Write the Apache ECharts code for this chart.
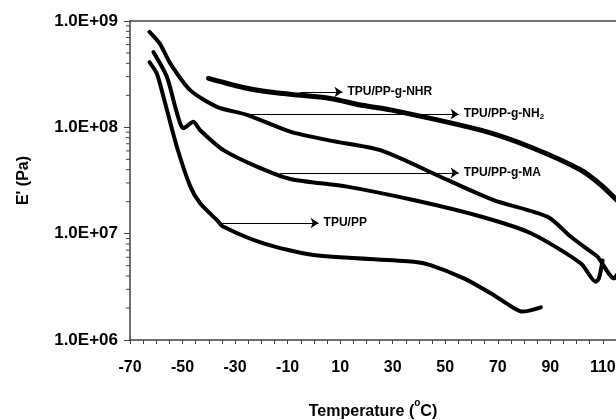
<!DOCTYPE html>
<html>
<head>
<meta charset="utf-8">
<script src="https://cdn.jsdelivr.net/npm/echarts@6/dist/echarts.min.js"></script>
<style>
html,body{margin:0;padding:0;background:#fff;}
#chart{width:616px;height:420px;}
</style>
</head>
<body>
<div id="chart"></div>
<script>
// ---- data ----
const tempNHR = [-40.1, -25.5, -12.8, 6.3, 17.7, 29.2, 63.5, 82.6, 101.6, 109.3, 115.3];
const modNHR  = [2.89e8, 2.33e8, 2.09e8, 1.87e8, 1.62e8, 1.46e8, 9.4e7, 6.5e7, 3.97e7, 2.87e7, 2.07e7];

const tempNH2 = [-62.6, -58.6, -54.7, -47.1, -36.9, -25.5, -9, 6.3, 25.3, 50.8, 68.4, 89, 97.8, 105.4, 108, 114.3, 115.3];
const modNH2  = [7.9e8, 6.1e8, 4.0e8, 2.24e8, 1.56e8, 1.31e8, 9.1e7, 7.5e7, 6.1e7, 3.2e7, 2.07e7, 1.44e7, 9.36e6, 6.77e6, 6.07e6, 3.8e6, 4.1e6];

const tempMA = [-61.1, -56, -52.8, -50.9, -49.7, -45.9, -43.3, -34.4, -21.7, -9, 12.6, 37.9, 63.5, 82.6, 101.6, 107.3, 108.5, 109.9];
const modMA  = [5.1e8, 3.0e8, 1.56e8, 1.09e8, 9.8e7, 1.13e8, 9.4e7, 6.1e7, 4.27e7, 3.27e7, 2.77e7, 2.07e7, 1.45e7, 1.01e7, 5.26e6, 3.53e6, 3.8e6, 5.6e6];

const tempPP = [-62.6, -59.8, -57.3, -52.2, -47.1, -43.3, -36.9, -34.4, -19.2, -0.1, 38, 44.4, 57.1, 67.3, 76.2, 79.4, 86.4];
const modPP  = [4.1e8, 3.2e8, 1.95e8, 6.6e7, 2.8e7, 1.93e7, 1.34e7, 1.16e7, 8.1e6, 6.3e6, 5.45e6, 5.07e6, 3.8e6, 2.75e6, 1.99e6, 1.85e6, 2.03e6];

// annotation arrows (data space)
const annText = ['TPU/PP-g-NHR', 'TPU/PP-g-NH2', 'TPU/PP-g-MA', 'TPU/PP'];
const annFrom = [-5.2, -26.8, -12.8, -35];
const annTo   = [10.9, 55.1, 55.1, 1.8];
const annE    = [2.15e8, 1.33e8, 3.73e7, 1.26e7];

// axis ticks
const xMin = -70, xMax = 115;
const yMin = 1e6, yMax = 1e9;
const yMinorTicks = [2e6,3e6,4e6,5e6,6e6,7e6,8e6,9e6, 2e7,3e7,4e7,5e7,6e7,7e7,8e7,9e7, 2e8,3e8,4e8,5e8,6e8,7e8,8e8,9e8];

const zip = (a, b) => a.map((v, i) => [v, b[i]]);
const FONT = '"Liberation Sans", Arial, sans-serif';
const AX = '#404040';

const chart = echarts.init(document.getElementById('chart'), null, {renderer: 'canvas'});

function lineSeries(name, t, e, w) {
  return {
    name, type: 'line', data: zip(t, e), showSymbol: false,
    smooth: 0.25,
    lineStyle: {color: '#000', width: w, cap: 'round', join: 'round'},
    itemStyle: {color: '#000'}, z: 3
  };
}

const markData = annText.map((txt, i) => [
  {coord: [annFrom[i], annE[i]], symbol: 'none'},
  {coord: [annTo[i], annE[i]], symbol: 'arrow',
   label: {formatter: txt === 'TPU/PP-g-NH2' ? '{b|TPU/PP-g-NH}{s|2}' : '{b|' + txt + '}'}}
]);

chart.setOption({
  animation: false,
  backgroundColor: '#fff',
  textStyle: {fontFamily: FONT},
  grid: {left: 130, right: 0, top: 21, bottom: 80, show: false, containLabel: false, outerBoundsMode: 'none'},
  xAxis: [{
    type: 'value', min: xMin, max: xMax, interval: 10,
    axisLine: {show: true, onZero: false, lineStyle: {color: AX, width: 1.5}},
    axisTick: {show: true, inside: false, length: 4, lineStyle: {color: AX, width: 1}},
    minorTick: {show: true, splitNumber: 2, length: 4, lineStyle: {color: AX, width: 1}},
    splitLine: {show: false},
    axisLabel: {
      margin: 20, fontSize: 16, fontWeight: 'bold', color: '#000', fontFamily: FONT,
      formatter: v => (((v - xMin) % 20) === 0 && v <= 110) ? String(v) : ''
    },
    name: '{a|Temperature (}{s|o}{a|C)}',
    nameLocation: 'middle', nameGap: 58,
    nameTextStyle: {
      rich: {
        a: {fontSize: 16, fontWeight: 'bold', color: '#000', fontFamily: FONT, lineHeight: 22, verticalAlign: 'bottom'},
        s: {fontSize: 10, fontWeight: 'bold', color: '#000', fontFamily: FONT, lineHeight: 12, verticalAlign: 'top'}
      }
    }
  }, {
    type: 'value', position: 'top', min: xMin, max: xMax,
    axisLine: {show: true, onZero: false, lineStyle: {color: AX, width: 1.5}},
    axisTick: {show: false}, axisLabel: {show: false}, splitLine: {show: false}
  }],
  yAxis: {
    type: 'log', logBase: 10, min: yMin, max: yMax,
    axisLine: {show: true, onZero: false, lineStyle: {color: AX, width: 1.5}},
    axisTick: {show: true, length: 6, lineStyle: {color: AX, width: 1}},
    splitLine: {show: false},
    axisLabel: {
      margin: 12, fontSize: 17, fontWeight: 'bold', color: '#000', fontFamily: FONT,
      formatter: v => '1.0E+' + String(Math.round(Math.log10(v))).padStart(2, '0')
    },
    name: "E' (Pa)", nameLocation: 'middle', nameRotate: 90, nameGap: 98,
    nameTextStyle: {fontSize: 16, fontWeight: 'bold', color: '#000', fontFamily: FONT}
  },
  series: [
    lineSeries('TPU/PP-g-NHR', tempNHR, modNHR, 5),
    lineSeries('TPU/PP-g-NH2', tempNH2, modNH2, 4),
    lineSeries('TPU/PP-g-MA', tempMA, modMA, 4),
    lineSeries('TPU/PP', tempPP, modPP, 4),
    {
      type: 'custom', name: 'yMinorTicks', silent: true, clip: false,
      data: yMinorTicks.map(v => [xMin, v]),
      renderItem: (params, api) => {
        const p = api.coord([api.value(0), api.value(1)]);
        return {type: 'line', shape: {x1: p[0] - 4, y1: p[1], x2: p[0], y2: p[1]},
                style: {stroke: AX, lineWidth: 1}};
      }
    },
    {
      type: 'line', name: 'annotations', data: [], silent: true,
      markLine: {
        silent: true, animation: false,
        symbolSize: 8,
        lineStyle: {color: '#000', width: 1, type: 'solid'},
        label: {
          show: true, position: 'end', distance: 5, color: '#000',
          rich: {
            b: {fontSize: 12, fontWeight: 'bold', color: '#000', fontFamily: FONT, lineHeight: 14},
            s: {fontSize: 8, fontWeight: 'bold', color: '#000', fontFamily: FONT, lineHeight: 14, verticalAlign: 'bottom', padding: [4, 0, 0, 0]}
          }
        },
        data: markData
      }
    }
  ]
});
</script>
</body>
</html>
